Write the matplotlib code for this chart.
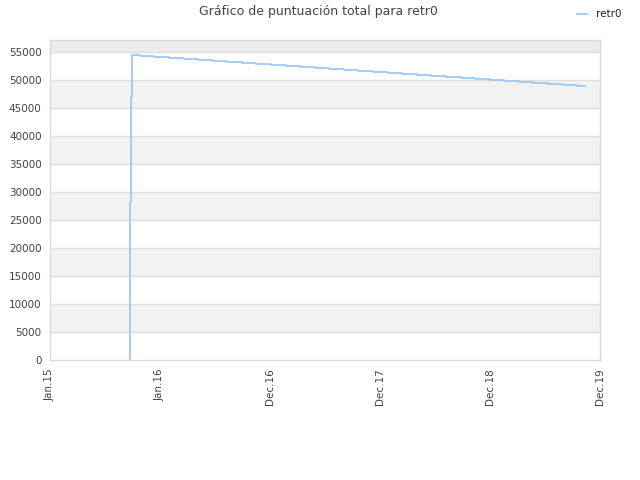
import matplotlib
matplotlib.use("Agg")
import matplotlib.pyplot as plt
from matplotlib.patches import Rectangle

title = "Gráfico de puntuación total para retr0"
series_name = "retr0"
tick_labels = ["Jan.15", "Jan.16", "Dec.16", "Dec.17", "Dec.18", "Dec.19"]

# x in "tick units" (0 = Jan.15 ... 5 = Dec.19), y = total score
x_vals = [0.7255, 0.727, 0.729, 0.733, 0.745, 0.818, 0.945,
          1.082, 1.218, 1.345, 1.482, 1.609, 1.745, 1.873, 2.009,
          2.145, 2.273, 2.409, 2.536, 2.673, 2.800, 2.936, 3.073,
          3.200, 3.336, 3.464, 3.600, 3.736, 3.864, 4.000, 4.127,
          4.264, 4.391, 4.527, 4.664, 4.791, 4.864]
y_vals = [0, 16900, 28300, 47000, 54500, 54320, 54110,
          53930, 53690, 53540, 53360, 53180, 53040, 52860, 52680,
          52500, 52320, 52140, 51960, 51790, 51610, 51430, 51250,
          51070, 50890, 50710, 50540, 50360, 50180, 50000, 49820,
          49640, 49460, 49290, 49110, 48930, 48930]

fig = plt.figure(figsize=(6.4, 4.8), dpi=100)
ax = fig.add_axes([50/640, 120/480, 550/640, 320/480])

ymax = 57150
ax.set_xlim(0, 5)
ax.set_ylim(0, ymax)

# bands
for lo in range(5000, 55000, 10000):
    ax.add_patch(Rectangle((0, lo), 5, 5000, facecolor="#f2f2f2", edgecolor="none", zorder=0))
ax.add_patch(Rectangle((0, 55000), 5, ymax - 55000, facecolor="#ececec", edgecolor="none", zorder=0))
for yv in range(5000, 60000, 5000):
    ax.axhline(yv, color="#dedede", lw=1.0, zorder=1)

ax.plot(x_vals, y_vals, drawstyle="steps-post", color="#9ccaf5", lw=1.3, zorder=3, label=series_name)

ax.set_xticks(range(6))
ax.set_xticklabels(tick_labels, rotation=90, fontsize=7.5, color="#444444")
ax.set_yticks(range(0, 60000, 5000))
ax.set_yticklabels([str(v) for v in range(0, 60000, 5000)], fontsize=7.5, color="#444444")
ax.tick_params(length=0, pad=6)
for s in ax.spines.values():
    s.set_color("#d9d9d9")
    s.set_linewidth(1.0)

fig.text(318/640, 1 - 12/480, title, ha="center", va="center", fontsize=9, color="#444444")
leg = fig.legend(loc="upper right", bbox_to_anchor=(0.985, 1.0), frameon=False, fontsize=7.5,
                 handlelength=1.0, handletextpad=0.8)
for t in leg.get_texts():
    t.set_color("#222222")

fig.savefig("out.png", dpi=100)
